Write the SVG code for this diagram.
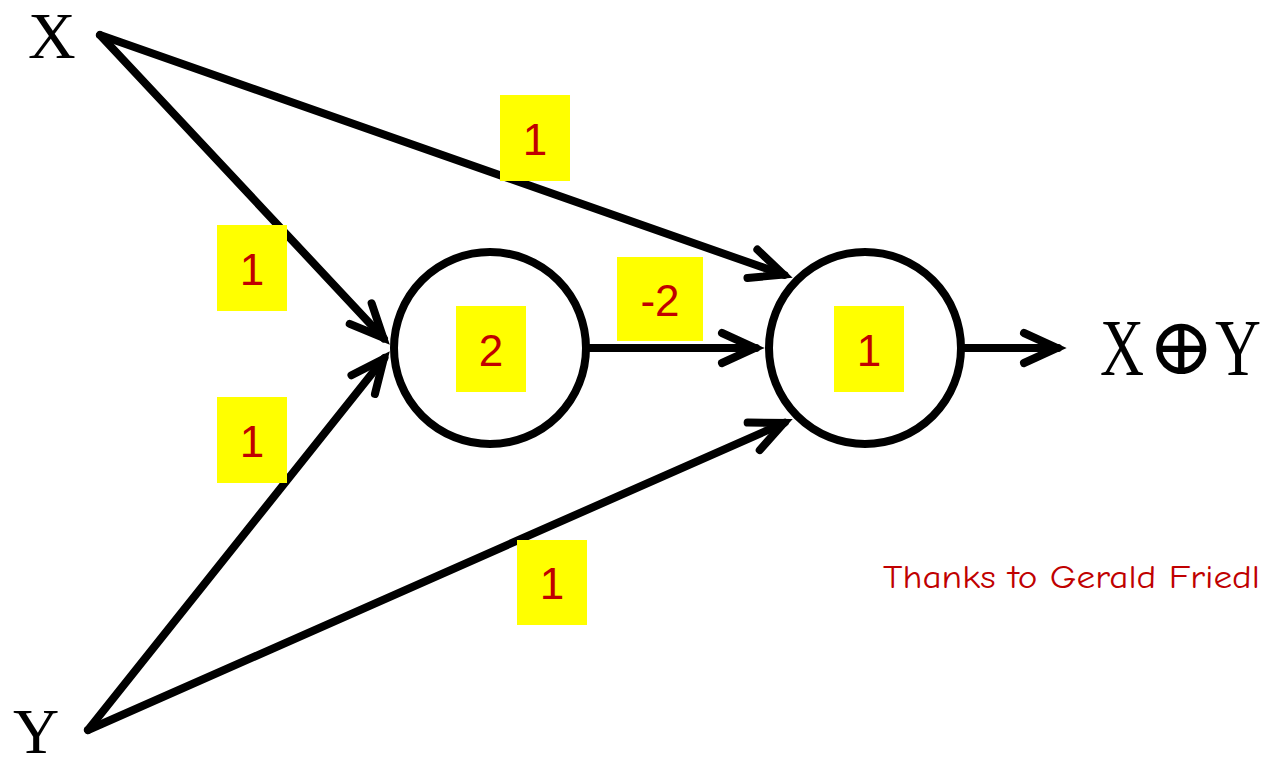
<svg xmlns="http://www.w3.org/2000/svg" width="1268" height="759" viewBox="0 0 1268 759">
<style>
.edge{stroke:#000;stroke-width:8;fill:none;stroke-linecap:round}
.node{fill:#fff;stroke:#000;stroke-width:8}
.box{fill:#ffff00}
.w{font-family:"Liberation Sans",Arial,sans-serif;font-size:44px;fill:#c00000;text-anchor:middle}
.lbl{font-family:"Liberation Serif","Times New Roman",serif;fill:#000}
</style>
<defs>
<marker id="arr" markerUnits="userSpaceOnUse" markerWidth="70" markerHeight="60" viewBox="-45 -30 70 60" refX="0" refY="0" orient="auto">
<path d="M -34,-15 L -1,0 L -34,15" fill="none" stroke="#000" stroke-width="8" stroke-linecap="round" stroke-linejoin="miter"/>
</marker>
</defs>
<rect width="1268" height="759" fill="#fff"/>
<g id="connectors">
<line class="edge" x1="100" y1="35" x2="383.9" y2="338.4" marker-end="url(#arr)"/>
<line class="edge" x1="100" y1="35" x2="784.5" y2="275" marker-end="url(#arr)"/>
<line class="edge" x1="88" y1="730" x2="384.4" y2="358" marker-end="url(#arr)"/>
<line class="edge" x1="88" y1="730" x2="784.8" y2="422.6" marker-end="url(#arr)"/>
<line class="edge" x1="590" y1="348" x2="756" y2="348" marker-end="url(#arr)"/>
<line class="edge" x1="964" y1="348" x2="1058" y2="348" marker-end="url(#arr)"/>
</g>
<g id="node-hidden">
<circle class="node" cx="490" cy="348" r="96"/>
<rect class="box" x="456" y="306" width="70" height="86"/>
<text class="w" x="491" y="366">2</text>
</g>
<g id="node-output">
<circle class="node" cx="865" cy="348" r="96"/>
<rect class="box" x="834" y="306" width="70" height="86"/>
<text class="w" x="869" y="366">1</text>
</g>
<g id="weights">
<rect class="box" x="500" y="95" width="70" height="86"/>
<text class="w" x="535" y="155">1</text>
<rect class="box" x="217" y="225" width="70" height="86"/>
<text class="w" x="252" y="285">1</text>
<rect class="box" x="217" y="397" width="70" height="86"/>
<text class="w" x="252" y="457">1</text>
<rect class="box" x="617" y="257" width="86" height="84"/>
<text class="w" x="660" y="316">-2</text>
<rect class="box" x="517" y="540" width="70" height="85"/>
<text class="w" x="552" y="599">1</text>
</g>
<g id="node-x">
<text class="lbl" x="28" y="58" font-size="66">X</text>
</g>
<g id="node-y">
<text class="lbl" x="13" y="753" font-size="64">Y</text>
</g>
<g id="node-xor">
<text class="lbl" x="1100" y="375" font-size="80" textLength="44" lengthAdjust="spacingAndGlyphs">X</text>
<text x="1181" y="374" font-family="'DejaVu Serif',serif" font-size="80" text-anchor="middle" fill="#000">⊕</text>
<text class="lbl" x="1215" y="375" font-size="80" textLength="46" lengthAdjust="spacingAndGlyphs">Y</text>
</g>
<text x="883" y="588" font-family="'Comic Neue','Liberation Sans',sans-serif" font-size="32" fill="#c00000" textLength="377" lengthAdjust="spacingAndGlyphs">Thanks to Gerald Friedl</text>
</svg>
